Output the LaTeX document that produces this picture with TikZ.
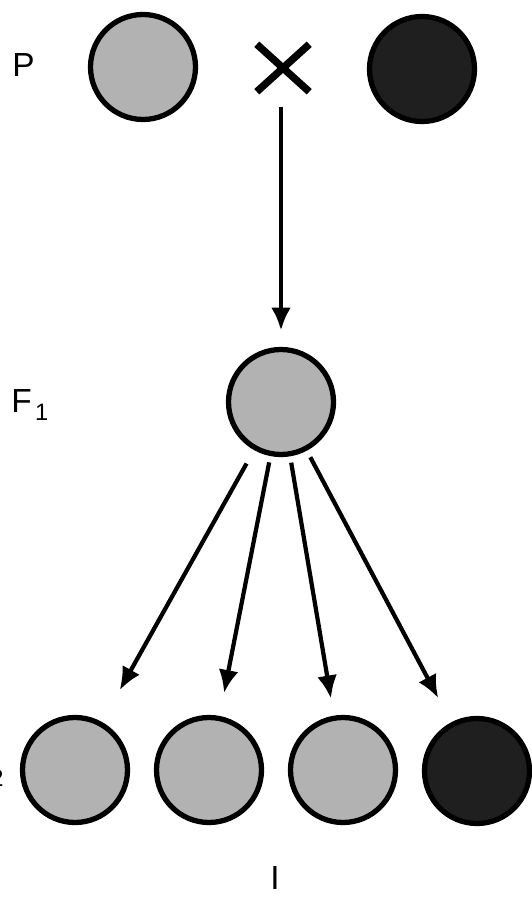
\documentclass[tikz,border=0pt]{standalone}
\usepackage{fontspec}
\setmainfont{Liberation Sans}
\usetikzlibrary{positioning,shapes.misc,arrows.meta}

\newcommand{\gensub}[1]{\kern0.1em\raisebox{-0.16cm}{\fontsize{13.5}{15}\selectfont #1}}

\begin{document}
\begin{tikzpicture}[
        font=\fontsize{19}{23}\selectfont,
        pea/.style={circle,draw,line width=3pt,minimum size=2.1cm,inner sep=0pt,outer sep=0pt},
        lightpea/.style={pea,fill=black!30},
        darkpea/.style={pea,fill=black!88},
        crossmark/.style={cross out,draw,line width=4.2pt,minimum width=1.05cm,minimum height=0.95cm,inner sep=0pt,outer sep=0pt},
        gen/.style={inner sep=0pt},
        descent/.style={-{Latex[length=0.46cm,width=0.4cm]},line width=2.4pt}]
        \useasboundingbox (0,0) rectangle (10.62,-17.96);

        % parents
        \node[lightpea] (p1) at (2.86,-1.34) {};
        \node[crossmark] (x) at (5.66,-1.36) {};
        \node[darkpea] (p2) at (8.44,-1.38) {};

        % first generation
        \node[lightpea] (f1) at (5.62,-8.04) {};

        % second generation
        \node[lightpea] (g1) at (1.5,-15.4) {};
        \node[lightpea] (g2) at (4.18,-15.4) {};
        \node[lightpea] (g3) at (6.86,-15.4) {};
        \node[darkpea] (g4) at (9.54,-15.42) {};

        \node[gen,anchor=base west] (lp) at (0.24,-1.54) {P};
        \node[gen,anchor=base west] (lf1) at (0.22,-8.24) {F\gensub{1}};
        \node[gen,anchor=base east] (lf2) at (0.08,-15.56) {F\gensub{2}};
        \node[gen] (ratio) at (5.5,-17.56) {I};

        \draw[descent,shorten <=0.3cm,shorten >=0.38cm] (x.south -| f1) -- (f1);
        \draw[descent,shorten <=0.36cm,shorten >=0.78cm] (f1) -- (g1);
        \draw[descent,shorten <=0.18cm,shorten >=0.52cm] (f1) -- (g2);
        \draw[descent,shorten <=0.18cm,shorten >=0.4cm] (f1) -- (g3);
        \draw[descent,shorten <=0.2cm,shorten >=0.6cm] (f1) -- (g4);
    \end{tikzpicture}
\end{document}
